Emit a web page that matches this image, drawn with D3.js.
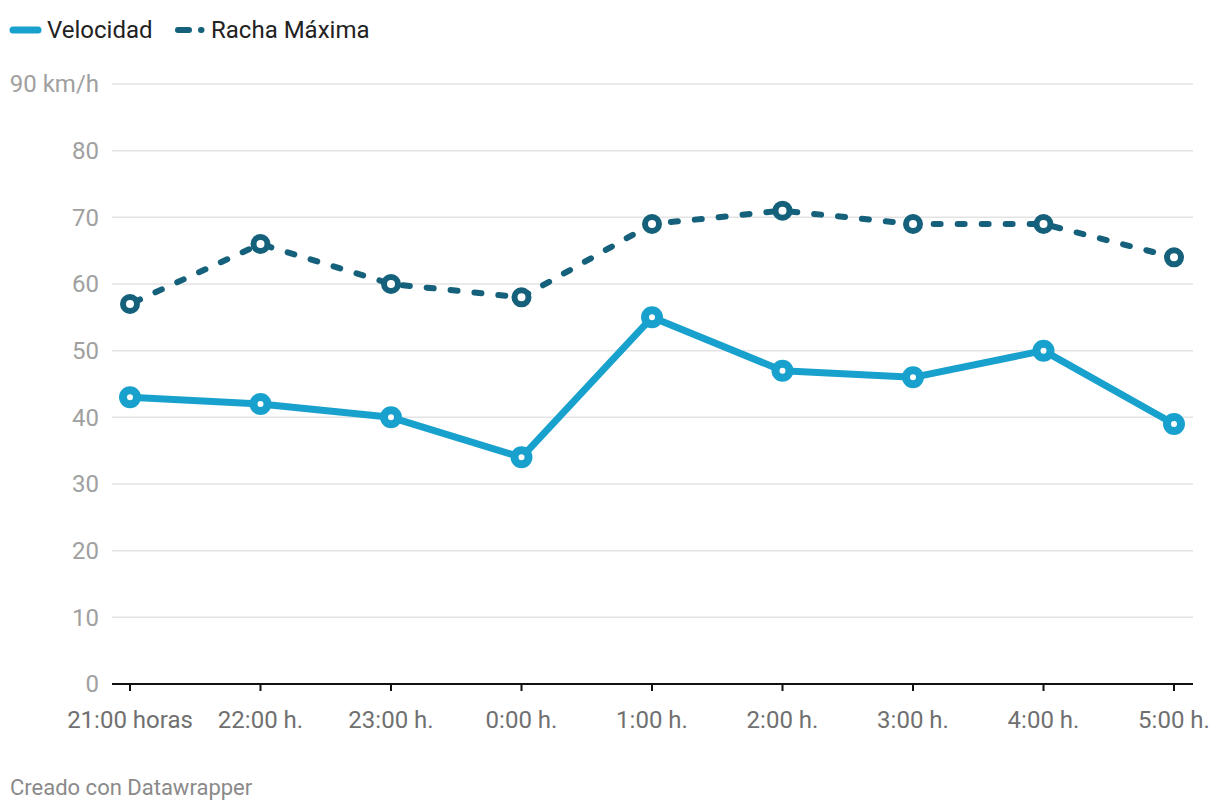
<!DOCTYPE html>
<html><head><meta charset="utf-8">
<script src="https://cdn.jsdelivr.net/npm/d3@7"></script>
<style>body{margin:0;background:#fff;font-family:Roboto,sans-serif;}</style>
</head><body>
<svg id="c" width="1220" height="810"></svg>
<script>
const categories = ["21:00 horas","22:00 h.","23:00 h.","0:00 h.","1:00 h.","2:00 h.","3:00 h.","4:00 h.","5:00 h."];
const velocidad = [43,42,40,34,55,47,46,50,39];
const racha = [57,66,60,58,69,71,69,69,64];
const yTicks = [0,10,20,30,40,50,60,70,80,90];
const seriesNames = ["Velocidad","Racha Máxima"];

const svg = d3.select("#c");
const x = d3.scalePoint().domain(categories).range([130,1174]);
const y = d3.scaleLinear().domain([0,90]).range([684,84]);
const C1 = "#18a1cd", C2 = "#15607a";

// grid
const g = svg.append("g");
g.selectAll("line.grid").data(yTicks.filter(d=>d>0)).join("line")
  .attr("x1",112).attr("x2",1193).attr("y1",d=>y(d)).attr("y2",d=>y(d))
  .attr("stroke","#e3e3e3").attr("stroke-width",1.5);
g.selectAll("text.yl").data(yTicks).join("text")
  .attr("x",99).attr("y",d=>y(d)).attr("dy","0.35em").attr("text-anchor","end")
  .attr("fill","#a0a0a0").attr("font-size",24)
  .text(d=>d===90? "90 km/h" : d);
// x axis
g.append("line").attr("x1",112).attr("x2",1193).attr("y1",684).attr("y2",684).attr("stroke","#111").attr("stroke-width",2);
g.selectAll("line.tick").data(categories).join("line")
  .attr("x1",d=>x(d)).attr("x2",d=>x(d)).attr("y1",684).attr("y2",691).attr("stroke","#111").attr("stroke-width",2);
g.selectAll("text.xl").data(categories).join("text")
  .attr("x",d=>x(d)).attr("y",728).attr("text-anchor","middle")
  .attr("fill","#707070").attr("font-size",24).text(d=>d);

const line = d3.line().x((d,i)=>x(categories[i])).y(d=>y(d));
// racha
svg.append("path").datum(racha).attr("d",line).attr("fill","none")
  .attr("stroke",C2).attr("stroke-width",6).attr("stroke-dasharray","7,17").attr("stroke-dashoffset",-4).attr("stroke-linecap","round");
svg.selectAll("circle.r").data(racha).join("circle")
  .attr("cx",(d,i)=>x(categories[i])).attr("cy",d=>y(d)).attr("r",7)
  .attr("fill","#fff").attr("stroke",C2).attr("stroke-width",6);
// velocidad
svg.append("path").datum(velocidad).attr("d",line).attr("fill","none")
  .attr("stroke",C1).attr("stroke-width",7).attr("stroke-linejoin","round");
svg.selectAll("circle.v").data(velocidad).join("circle")
  .attr("cx",(d,i)=>x(categories[i])).attr("cy",d=>y(d)).attr("r",7)
  .attr("fill","#fff").attr("stroke",C1).attr("stroke-width",8);

// legend
const lg = svg.append("g");
lg.append("line").attr("x1",13).attr("x2",38).attr("y1",30).attr("y2",30).attr("stroke",C1).attr("stroke-width",7).attr("stroke-linecap","round");
lg.append("text").attr("x",47).attr("y",30).attr("dy","0.35em").attr("font-size",24).attr("fill","#222").text(seriesNames[0]);
lg.append("line").attr("x1",178).attr("x2",189).attr("y1",30).attr("y2",30).attr("stroke",C2).attr("stroke-width",6).attr("stroke-linecap","round");
lg.append("line").attr("x1",201).attr("x2",201.5).attr("y1",30).attr("y2",30).attr("stroke",C2).attr("stroke-width",6).attr("stroke-linecap","round");
lg.append("text").attr("x",211).attr("y",30).attr("dy","0.35em").attr("font-size",24).attr("fill","#222").text(seriesNames[1]);

svg.append("text").attr("x",10).attr("y",795).attr("font-size",22).attr("fill","#8a8a8a").text("Creado con Datawrapper");
</script>
</body></html>
